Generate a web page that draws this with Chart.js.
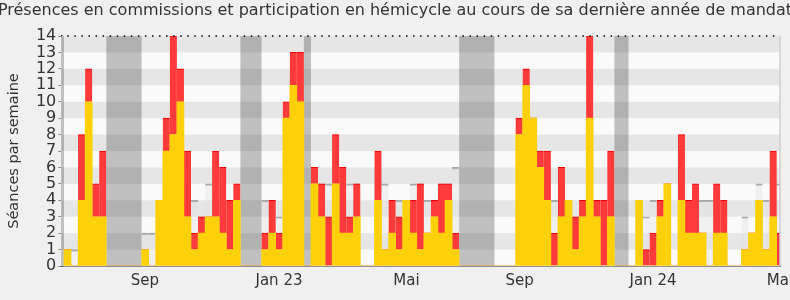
<!DOCTYPE html>
<html>
<head>
<meta charset="utf-8">
<script src="https://cdn.jsdelivr.net/npm/chart.js@4"></script>
<style>
  html, body { margin: 0; padding: 0; background: #f0f0f0; }
  #wrap { width: 790px; height: 300px; }
</style>
</head>
<body>
<div id="wrap"><canvas id="presences" width="790" height="300"></canvas></div>
<script>
// séances par semaine, semaine 0 = début de la période
const commission = [1,0,4,10,3,3,0,0,0,0, 0,1,0,4,7,8,10,3,1,2, 3,3,2,1,4,0,0,0,1,2,
                    1,9,11,10,0,5,3,0,5,2, 2,3,0,0,4,1,2,1,4,2, 1,2,3,2,4,1,0,0,0,0,
                    0,0,0,0,8,11,9,6,4,0, 3,4,1,3,9,3,0,3,0,0, 0,4,0,0,3,5,0,4,2,2,
                    2,0,2,2,0,0,1,2,4,1, 3,0];
const hemicycle = [0,0,4,2,2,4,0,0,0,0, 0,0,0,0,2,6,2,4,1,1, 0,4,4,3,1,0,0,0,1,2,
                   1,1,2,3,0,1,2,3,3,4, 1,2,0,0,3,0,2,2,0,2, 4,0,1,3,1,1,0,0,0,0,
                   0,0,0,0,1,1,0,1,3,2, 3,0,2,1,5,1,4,4,0,0, 0,0,1,2,1,0,0,4,2,3,
                   0,0,3,2,0,0,0,0,0,0, 4,2];
const mediane = [1,1,4,4,4,4,0,0,0,0, 0,2,2,3,4,4,4,4,4,3, 5,4,4,4,4,0,0,0,4,4,
                 3,4,4,4,0,5,5,5,5,5, 5,5,0,0,5,5,4,4,4,5, 5,4,4,5,5,6,0,0,0,0,
                 0,0,0,0,4,4,4,4,4,4, 4,4,3,4,4,4,4,4,0,0, 0,4,3,4,4,4,0,4,4,4,
                 4,4,4,4,0,0,3,2,5,4, 5,5];
// vacances parlementaires [semaine début, semaine fin)
const vacances = [[-1,0],[6,11],[25,28],[34,35],[56,61],[78,80]];
const moisPos = [11.45, 30.47, 48.53, 64.58, 83.47, 101.47];
const moisLabels = ['Sep', 'Jan 23', 'Mai', 'Sep', 'Jan 24', 'Mai'];

const titre = 'Présences en commissions et participation en hémicycle au cours de sa dernière année de mandat';
const police = { family: 'DejaVu Sans', size: 15 };
const pts = arr => arr.map((v, i) => ({ x: i + 0.5, y: v }));

const fond = {
  id: 'fond',
  beforeDatasetsDraw(chart) {
    const { ctx, chartArea: a, scales: { x, y } } = chart;
    ctx.save();
    ctx.fillStyle = '#fafafa';
    ctx.fillRect(a.left, a.top, a.width, a.height);
    ctx.beginPath();
    ctx.rect(a.left, a.top, a.width, a.height);
    ctx.clip();
    ctx.fillStyle = '#c0c0c0';
    vacances.forEach(([d, f]) => {
      const x0 = x.getPixelForValue(d), x1 = x.getPixelForValue(f);
      ctx.fillRect(x0, a.top, x1 - x0, a.height);
    });
    ctx.fillStyle = 'rgba(0,0,0,0.08)';
    for (let v = 1; v < 14; v += 2) {
      const y0 = y.getPixelForValue(v + 1), y1 = y.getPixelForValue(v);
      ctx.fillRect(a.left, y0, a.width, y1 - y0);
    }
    ctx.restore();
  },
  afterDatasetsDraw(chart) {
    const { ctx, chartArea: a, scales: { y } } = chart;
    ctx.save();
    // pointillés en haut
    const yt = y.getPixelForValue(14);
    ctx.strokeStyle = '#000';
    ctx.lineWidth = 1.5;
    ctx.setLineDash([1.5, 5.556]);
    ctx.lineDashOffset = -6;
    ctx.beginPath();
    ctx.moveTo(a.left, yt);
    ctx.lineTo(a.right, yt);
    ctx.stroke();
    // bord droit
    ctx.setLineDash([]);
    ctx.strokeStyle = '#cfcfcf';
    ctx.lineWidth = 1.5;
    ctx.beginPath();
    ctx.moveTo(a.right, a.top);
    ctx.lineTo(a.right, a.bottom);
    ctx.stroke();
    ctx.restore();
  },
  afterDraw(chart) {
    // titre non compressé, il déborde du canvas comme dans l'original
    const ctx = chart.ctx;
    ctx.save();
    ctx.font = '16px "DejaVu Sans"';
    ctx.fillStyle = '#333';
    ctx.textAlign = 'center';
    ctx.textBaseline = 'middle';
    ctx.fillText(titre, chart.width / 2, 10.5);
    ctx.restore();
  }
};

new Chart(document.getElementById('presences'), {
  type: 'bar',
  data: {
    datasets: [
      {
        label: 'Présences commission',
        data: pts(commission),
        backgroundColor: 'rgb(253,209,10)',
        stack: 'p',
        grouped: false
      },
      {
        label: 'Participation hémicycle',
        data: pts(hemicycle),
        backgroundColor: 'rgb(255,58,58)',
        borderColor: 'rgb(240,0,0)',
        borderWidth: { top: 1, left: 0, right: 0, bottom: 0 },
        borderSkipped: false,
        stack: 'p',
        grouped: false
      },
      {
        label: 'Médiane',
        data: pts(mediane),
        backgroundColor: 'rgba(225,225,225,0.4)',
        borderColor: 'rgba(150,150,150,0.8)',
        borderWidth: { top: 1.5, left: 0, right: 0, bottom: 0 },
        borderSkipped: false,
        stack: 'm',
        grouped: false
      }
    ]
  },
  options: {
    responsive: false,
    animation: false,
    categoryPercentage: 1,
    barPercentage: 1,
    layout: { padding: { left: 10, right: 10, top: 36, bottom: 0 } },
    plugins: {
      legend: { display: false },
      tooltip: { enabled: false },
      title: { display: false }
    },
    scales: {
      x: {
        type: 'linear',
        offset: false,
        min: -0.38,
        max: 101.47,
        z: 1,
        afterBuildTicks: s => { s.ticks = moisPos.map(v => ({ value: v })); },
        ticks: {
          autoSkip: false,
          maxRotation: 0,
          color: '#333',
          font: police,
          padding: 6,
          callback: (v, i) => moisLabels[i]
        },
        grid: { display: false, drawTicks: false, offset: false },
        border: { color: '#333', width: 1.5 },
        afterFit: s => { s.height = 34; s.paddingLeft = 0; s.paddingRight = 0; }
      },
      y: {
        stacked: true,
        min: 0,
        max: 14,
        z: 1,
        ticks: { stepSize: 1, autoSkip: false, color: '#333', font: { family: 'DejaVu Sans', size: 16 }, padding: 2 },
        grid: { drawOnChartArea: false, tickLength: 3, color: '#888' },
        border: { color: '#444', width: 1.5 },
        title: {
          display: true,
          text: 'Séances par semaine',
          color: '#333',
          font: { family: 'DejaVu Sans', size: 14.5 },
          padding: { top: -4, bottom: 0 }
        },
        afterFit: s => { s.width = 51.3; s.paddingTop = 0; s.paddingBottom = 0; }
      }
    }
  },
  plugins: [fond]
});
</script>
</body>
</html>
